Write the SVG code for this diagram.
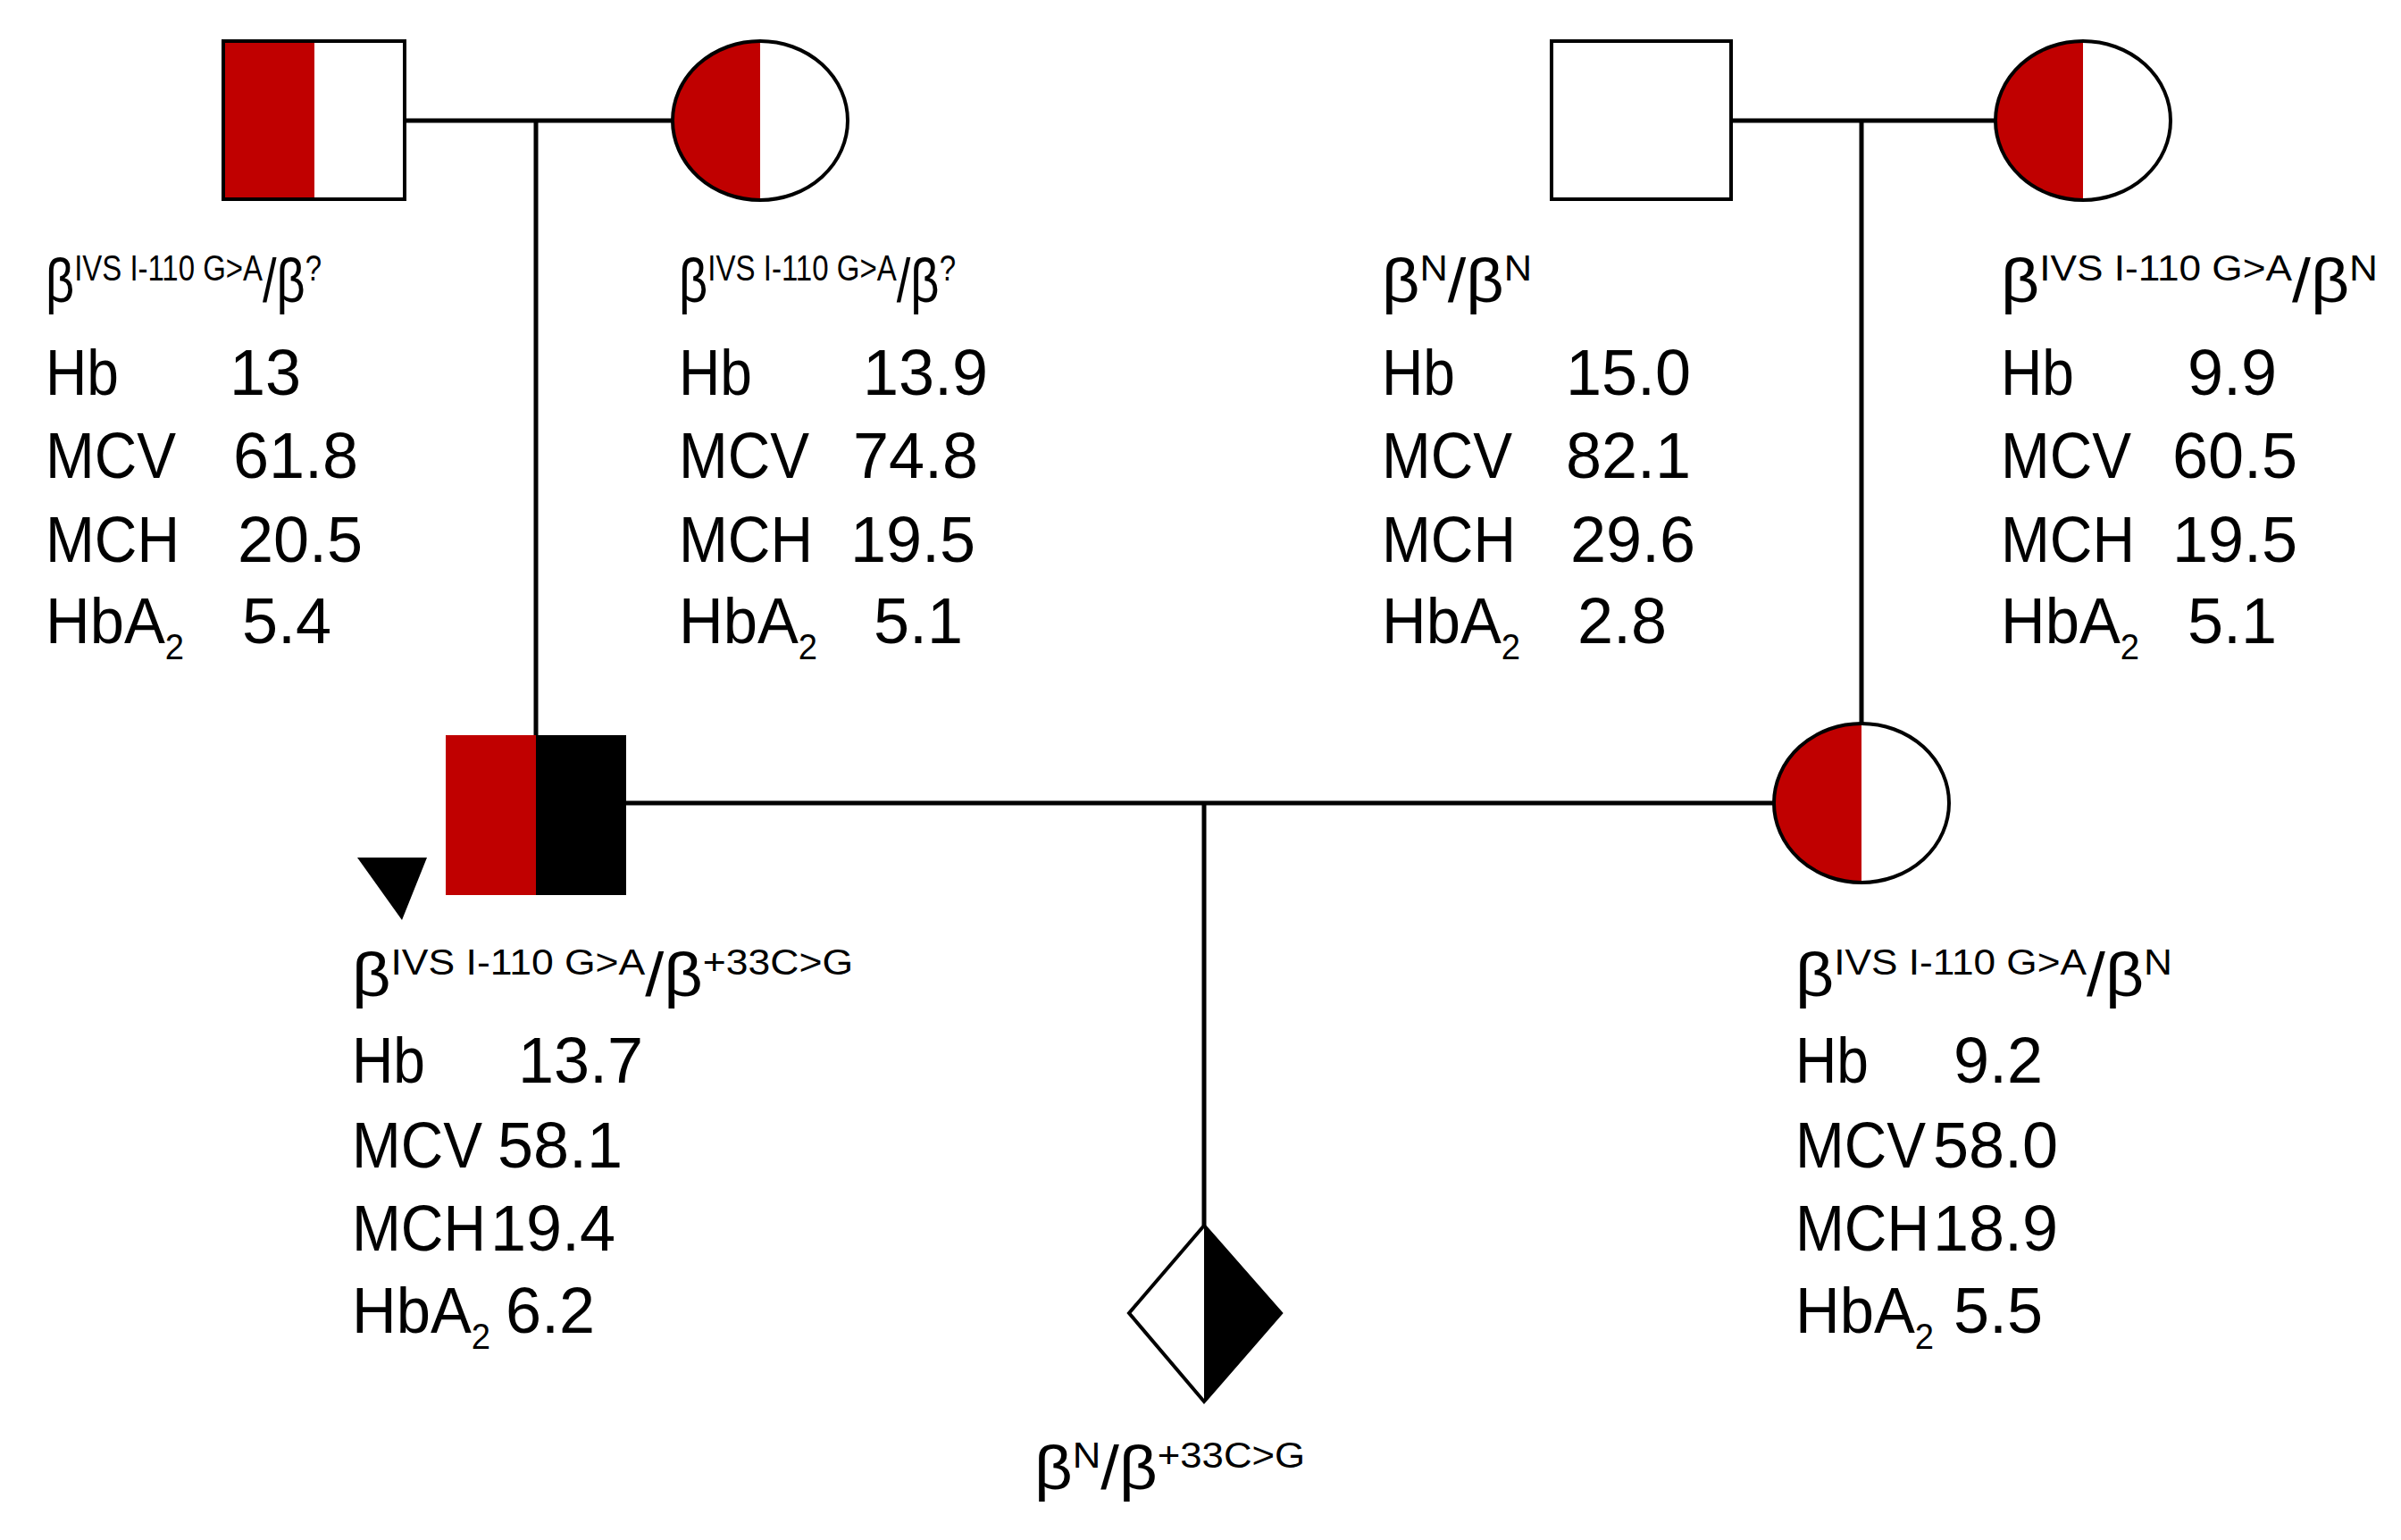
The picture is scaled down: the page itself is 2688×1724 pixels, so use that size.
<svg xmlns="http://www.w3.org/2000/svg" width="2688" height="1724" viewBox="0 0 2688 1724">
<style>
text{font-family:"Liberation Sans",Arial,sans-serif;fill:#000}
.t{font-size:72px}
.g{font-size:68px}
.s{font-size:40px}
.ln{stroke:#000;stroke-width:5;fill:none}
.red{fill:#c00000}
.ol{fill:none;stroke:#000;stroke-width:4}
</style>
<rect width="2688" height="1724" fill="#fff"/>
<g id="connectors">
<path class="ln" d="M453 135H753M600 135V823"/>
<path class="ln" d="M1938 135H2234M2084 135V810"/>
<path class="ln" d="M701 899H1986M1348 899V1372"/>
</g>
<g id="gf">
<rect x="250" y="46" width="102" height="177" class="red"/>
<rect x="250" y="46" width="203" height="177" class="ol"/>
<text class="g" x="51" y="338" textLength="309" lengthAdjust="spacingAndGlyphs">β<tspan class="s" dy="-24">IVS  I-110 G&gt;A</tspan><tspan dy="24">/β</tspan><tspan class="s" dy="-24">?</tspan></text>
<text class="t" x="51" y="442" textLength="82" lengthAdjust="spacingAndGlyphs">Hb</text><text class="t" x="257" y="442">13</text>
<text class="t" x="51" y="535" textLength="146" lengthAdjust="spacingAndGlyphs">MCV</text><text class="t" x="261" y="535">61.8</text>
<text class="t" x="51" y="629" textLength="150" lengthAdjust="spacingAndGlyphs">MCH</text><text class="t" x="266" y="629">20.5</text>
<text class="t" x="51" y="720" textLength="155" lengthAdjust="spacingAndGlyphs">HbA<tspan class="s" dy="18">2</tspan></text><text class="t" x="271" y="720">5.4</text>
</g>
<g id="gm">
<path d="M851 46A98 89 0 0 0 851 224Z" class="red"/>
<ellipse cx="851" cy="135" rx="98" ry="89" class="ol"/>
<text class="g" x="760" y="338" textLength="310" lengthAdjust="spacingAndGlyphs">β<tspan class="s" dy="-24">IVS  I-110 G&gt;A</tspan><tspan dy="24">/β</tspan><tspan class="s" dy="-24">?</tspan></text>
<text class="t" x="760" y="442" textLength="82" lengthAdjust="spacingAndGlyphs">Hb</text><text class="t" x="966" y="442">13.9</text>
<text class="t" x="760" y="535" textLength="146" lengthAdjust="spacingAndGlyphs">MCV</text><text class="t" x="955" y="535">74.8</text>
<text class="t" x="760" y="629" textLength="150" lengthAdjust="spacingAndGlyphs">MCH</text><text class="t" x="952" y="629">19.5</text>
<text class="t" x="760" y="720" textLength="155" lengthAdjust="spacingAndGlyphs">HbA<tspan class="s" dy="18">2</tspan></text><text class="t" x="978" y="720">5.1</text>
</g>
<g id="mgf">
<rect x="1737" y="46" width="201" height="177" class="ol"/>
<text class="g" x="1547" y="338" textLength="168" lengthAdjust="spacingAndGlyphs">β<tspan class="s" dy="-24">N</tspan><tspan dy="24">/β</tspan><tspan class="s" dy="-24">N</tspan></text>
<text class="t" x="1547" y="442" textLength="82" lengthAdjust="spacingAndGlyphs">Hb</text><text class="t" x="1753" y="442">15.0</text>
<text class="t" x="1547" y="535" textLength="146" lengthAdjust="spacingAndGlyphs">MCV</text><text class="t" x="1753" y="535">82.1</text>
<text class="t" x="1547" y="629" textLength="150" lengthAdjust="spacingAndGlyphs">MCH</text><text class="t" x="1758" y="629">29.6</text>
<text class="t" x="1547" y="720" textLength="155" lengthAdjust="spacingAndGlyphs">HbA<tspan class="s" dy="18">2</tspan></text><text class="t" x="1766" y="720">2.8</text>
</g>
<g id="mgm">
<path d="M2332 46A98 89 0 0 0 2332 224Z" class="red"/>
<ellipse cx="2332" cy="135" rx="98" ry="89" class="ol"/>
<text class="g" x="2240" y="338" textLength="422" lengthAdjust="spacingAndGlyphs">β<tspan class="s" dy="-24">IVS  I-110 G&gt;A</tspan><tspan dy="24">/β</tspan><tspan class="s" dy="-24">N</tspan></text>
<text class="t" x="2240" y="442" textLength="82" lengthAdjust="spacingAndGlyphs">Hb</text><text class="t" x="2449" y="442">9.9</text>
<text class="t" x="2240" y="535" textLength="146" lengthAdjust="spacingAndGlyphs">MCV</text><text class="t" x="2432" y="535">60.5</text>
<text class="t" x="2240" y="629" textLength="150" lengthAdjust="spacingAndGlyphs">MCH</text><text class="t" x="2432" y="629">19.5</text>
<text class="t" x="2240" y="720" textLength="155" lengthAdjust="spacingAndGlyphs">HbA<tspan class="s" dy="18">2</tspan></text><text class="t" x="2449" y="720">5.1</text>
</g>
<g id="proband">
<rect x="499" y="823" width="101" height="179" class="red"/>
<rect x="600" y="823" width="101" height="179" fill="#000"/>
<polygon points="400,960 478,960 450,1030" fill="#000"/>
<text class="g" x="394" y="1115" textLength="561" lengthAdjust="spacingAndGlyphs">β<tspan class="s" dy="-24">IVS  I-110 G&gt;A</tspan><tspan dy="24">/β</tspan><tspan class="s" dy="-24">+33C&gt;G</tspan></text>
<text class="t" x="394" y="1212" textLength="82" lengthAdjust="spacingAndGlyphs">Hb</text><text class="t" x="580" y="1212">13.7</text>
<text class="t" x="394" y="1307" textLength="146" lengthAdjust="spacingAndGlyphs">MCV</text><text class="t" x="557" y="1307">58.1</text>
<text class="t" x="394" y="1400" textLength="150" lengthAdjust="spacingAndGlyphs">MCH</text><text class="t" x="549" y="1400">19.4</text>
<text class="t" x="394" y="1492" textLength="155" lengthAdjust="spacingAndGlyphs">HbA<tspan class="s" dy="18">2</tspan></text><text class="t" x="566" y="1492">6.2</text>
</g>
<g id="wife">
<path d="M2084 810A98 89 0 0 0 2084 988Z" class="red"/>
<ellipse cx="2084" cy="899" rx="98" ry="89" class="ol"/>
<text class="g" x="2010" y="1115" textLength="422" lengthAdjust="spacingAndGlyphs">β<tspan class="s" dy="-24">IVS  I-110 G&gt;A</tspan><tspan dy="24">/β</tspan><tspan class="s" dy="-24">N</tspan></text>
<text class="t" x="2010" y="1212" textLength="82" lengthAdjust="spacingAndGlyphs">Hb</text><text class="t" x="2187" y="1212">9.2</text>
<text class="t" x="2010" y="1307" textLength="146" lengthAdjust="spacingAndGlyphs">MCV</text><text class="t" x="2164" y="1307">58.0</text>
<text class="t" x="2010" y="1400" textLength="150" lengthAdjust="spacingAndGlyphs">MCH</text><text class="t" x="2164" y="1400">18.9</text>
<text class="t" x="2010" y="1492" textLength="155" lengthAdjust="spacingAndGlyphs">HbA<tspan class="s" dy="18">2</tspan></text><text class="t" x="2187" y="1492">5.5</text>
</g>
<g id="fetus">
<polygon points="1348,1372 1434,1470 1348,1569" fill="#000"/>
<polygon points="1348,1372 1434,1470 1348,1569 1264,1470" class="ol"/>
<text class="g" x="1158" y="1667" textLength="303" lengthAdjust="spacingAndGlyphs">β<tspan class="s" dy="-24">N</tspan><tspan dy="24">/β</tspan><tspan class="s" dy="-24">+33C&gt;G</tspan></text>
</g>
</svg>
